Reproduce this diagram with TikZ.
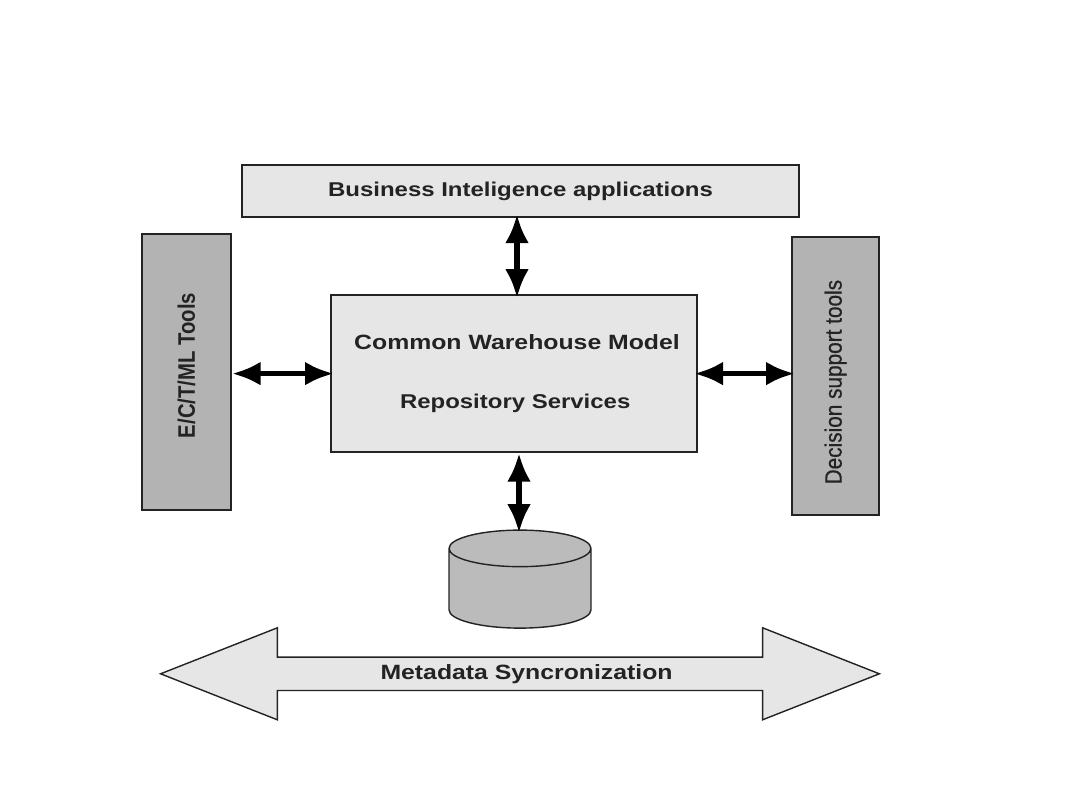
\documentclass[tikz,border=0pt]{standalone}
\usepackage{fontspec}
\setmainfont{Liberation Sans}
\newfontfamily\widefont[FakeStretch=1.2]{Liberation Sans Bold}
\newfontfamily\narrowbold[FakeStretch=0.85]{Liberation Sans Bold}
\newfontfamily\narrowfont[FakeStretch=0.88,FakeBold=0.6]{Liberation Sans}
\usepackage{xcolor}
\usetikzlibrary{shapes.geometric, shapes.arrows, arrows.meta, positioning}
\definecolor{lightpanel}{RGB}{230,230,230}
\definecolor{darkpanel}{RGB}{179,179,179}
\definecolor{storegray}{RGB}{187,187,187}
\definecolor{inkline}{RGB}{35,35,35}

\begin{document}
\begin{tikzpicture}[
    panel/.style={rectangle, draw=inkline, line width=1.1pt, fill=lightpanel, text=inkline, outer sep=0pt, font=\fontsize{14.7}{42}\widefont},
    toolbar/.style={rectangle, draw=inkline, line width=1.1pt, fill=darkpanel, text=inkline, outer sep=0pt},
    store/.style={cylinder, shape border rotate=90, shape aspect=3.9, draw=inkline, line width=1pt, cylinder uses custom fill, cylinder body fill=storegray, cylinder end fill=storegray, outer sep=0pt, minimum width=3.55cm, minimum height=2.45cm},
    syncarrow/.style={double arrow, draw=inkline, line width=1pt, fill=lightpanel, text=inkline, outer sep=0pt, double arrow tip angle=43, double arrow head extend=0.66cm, minimum width=2.3cm, minimum height=17.97cm, font=\fontsize{14.7}{17}\widefont},
    link/.style={{Latex[length=0.72cm,width=0.6cm]}-{Latex[length=0.72cm,width=0.6cm]}, line width=4pt, draw=black, shorten <=-0.07cm, shorten >=-0.07cm},
]
\useasboundingbox (0,0) rectangle (27,-20.25);

% Central repository
\node[panel, minimum width=9.15cm, minimum height=3.925cm, align=center, yshift=-0.02cm] (crs) at (12.85,-9.32) {\hspace*{0.15cm}Common Warehouse Model\\\hspace*{0.06cm}\fontsize{14.2}{42}\selectfont Repository Services};

% Surrounding blocks
\node[panel, font=\fontsize{14.2}{17}\widefont, minimum width=13.925cm, minimum height=1.3cm, above=1.95cm of crs, xshift=0.1625cm] (bi) {\raisebox{-0.7pt}{Business Inteligence applications}};
\node[toolbar, font=\fontsize{17}{20}\narrowbold, minimum width=2.225cm, minimum height=6.9cm, left=2.5cm of crs, yshift=0.0375cm] (etl) {\rotatebox{90}{\hspace*{0.33cm}E/C/T/ML Tools}};
\node[toolbar, font=\fontsize{16.8}{20}\narrowfont, minimum width=2.175cm, minimum height=6.95cm, right=2.375cm of crs, yshift=-0.0625cm] (dss) {\rotatebox{90}{Decision support tools\hspace*{0.3cm}}};

% Metadata store and sync band
\node[store, below=1.95cm of crs, xshift=0.15cm] (meta) {};
\node[syncarrow, below=0.725cm of meta] (sync) {\hspace*{0.33cm}\raisebox{-1.4pt}{Metadata Syncronization}};

% Connectors
\draw[link] ([xshift=0.075cm]crs.north) -- ([xshift=-0.0875cm]bi.south);
\draw[link, shorten <=0.02cm] (etl.east |- crs.west) -- (crs.west);
\draw[link] (crs.east) -- (crs.east -| dss.west);
\draw[link, shorten <=0.02cm] ([xshift=0.125cm]crs.south) -- ([xshift=-0.025cm]meta.north);

\end{tikzpicture}
\end{document}
